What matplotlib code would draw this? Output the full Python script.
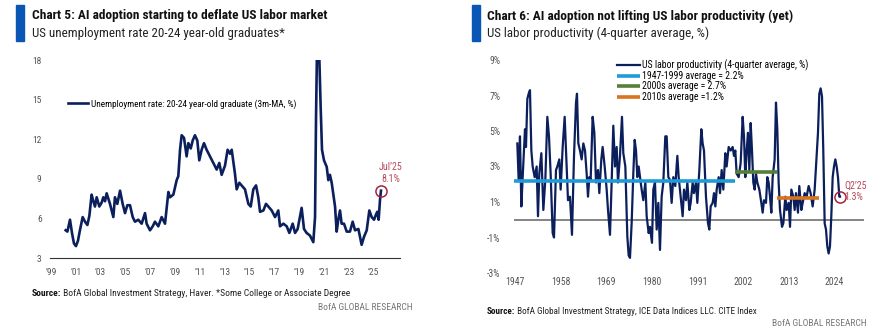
import matplotlib
matplotlib.use("Agg")
import matplotlib.pyplot as plt

plt.rcParams['font.family'] = ['Roboto Condensed', 'Archivo Narrow', 'Asap Condensed', 'DejaVu Sans']

# ---- Chart 5 data: unemployment rate 20-24 yr old graduates (3m-MA, %)
unemp_years = [2000.18, 2000.32, 2000.53, 2000.69, 2000.85, 2001.01, 2001.17, 2001.33, 2001.55, 2001.74,
               2001.93, 2002.09, 2002.27, 2002.41, 2002.54, 2002.68, 2002.89, 2003.08, 2003.21, 2003.35,
               2003.48, 2003.75, 2004.02, 2004.15, 2004.34, 2004.56, 2004.77, 2004.96, 2005.15, 2005.36,
               2005.58, 2005.76, 2006.03, 2006.30, 2006.57, 2006.70, 2006.97, 2007.19, 2007.37, 2007.64,
               2007.91, 2008.18, 2008.45, 2008.58, 2008.85, 2009.12, 2009.25, 2009.39, 2009.52, 2009.71,
               2009.92, 2010.06, 2010.25, 2010.41, 2010.59, 2010.78, 2010.94, 2011.13, 2011.32, 2011.53,
               2011.80, 2012.07, 2012.34, 2012.55, 2012.74, 2013.01, 2013.22, 2013.41, 2013.55, 2013.81,
               2013.95, 2014.16, 2014.43, 2014.62, 2014.89, 2015.08, 2015.29, 2015.51, 2015.69, 2015.83,
               2016.10, 2016.31, 2016.50, 2016.77, 2017.04, 2017.30, 2017.44, 2017.71, 2017.98, 2018.19,
               2018.46, 2018.65, 2018.86, 2019.18, 2019.37, 2019.58, 2019.85, 2020.12, 2020.26, 2020.34,
               2020.42, 2020.58, 2020.71, 2020.82, 2020.98, 2021.20, 2021.33, 2021.46, 2021.60, 2021.87,
               2022.00, 2022.13, 2022.27, 2022.40, 2022.59, 2022.81, 2023.07, 2023.29, 2023.48, 2023.75,
               2024.01, 2024.20, 2024.42, 2024.63, 2024.82, 2025.01, 2025.17, 2025.27, 2025.38, 2025.49,
               2025.57]
unemp_vals = [5.1, 5.0, 5.9, 4.9, 4.1, 3.9, 4.3, 5.1, 6.1, 5.75,
              5.5, 6.2, 7.8, 7.3, 6.9, 7.6, 6.9, 7.2, 7.6, 7.3,
              7.9, 7.1, 6.1, 7.6, 7.1, 8.1, 7.1, 6.4, 7.0, 7.0,
              6.1, 5.75, 5.9, 5.6, 6.4, 5.6, 5.1, 5.4, 5.75, 5.4,
              6.1, 5.6, 8.0, 7.6, 7.8, 8.9, 9.2, 11.2, 12.3, 12.1,
              10.7, 11.7, 11.3, 11.9, 12.3, 11.9, 10.4, 11.2, 11.7, 11.2,
              10.7, 10.2, 9.7, 10.2, 9.3, 10.0, 11.2, 10.9, 11.2, 9.4,
              8.2, 8.7, 8.4, 8.2, 7.1, 6.9, 8.2, 8.5, 7.6, 6.5,
              6.6, 7.1, 6.9, 6.6, 6.1, 6.6, 5.4, 5.6, 5.4, 4.9,
              5.6, 4.9, 5.2, 6.8, 5.2, 4.9, 4.7, 4.2, 6.1, 13.7,
              19.0, 19.0, 14.5, 11.2, 10.4, 9.9, 8.9, 9.3, 8.7, 6.9,
              5.0, 5.9, 6.6, 5.6, 5.6, 5.0, 5.0, 5.75, 5.1, 5.2,
              4.0, 4.6, 5.1, 6.6, 6.1, 5.9, 6.3, 6.5, 5.9, 7.4,
              8.1]
unemp_ticks = list(range(1999, 2026, 2))
unemp_ticklabels = ["\u2019" + str(y)[2:] for y in unemp_ticks]
unemp_yticks = [3, 6, 9, 12, 15, 18]

# ---- Chart 6 data: US labor productivity (4-quarter average, %)
prod_years = [1947.56, 1947.88, 1948.20, 1948.53, 1948.85, 1949.17, 1949.41, 1949.65, 1949.97, 1950.29,
              1950.61, 1950.94, 1951.26, 1951.74, 1952.22, 1952.54, 1952.86, 1953.35, 1953.83, 1954.31,
              1954.79, 1955.19, 1955.59, 1956.08, 1956.40, 1956.88, 1957.20, 1957.68, 1958.00, 1958.49,
              1958.97, 1959.29, 1959.77, 1960.25, 1960.73, 1961.22, 1961.70, 1961.94, 1962.26, 1962.66,
              1963.06, 1963.47, 1963.87, 1964.27, 1964.59, 1964.91, 1965.23, 1965.71, 1966.12, 1966.52,
              1967.00, 1967.32, 1967.80, 1968.12, 1968.61, 1969.09, 1969.41, 1969.89, 1970.29, 1970.69,
              1971.10, 1971.50, 1971.82, 1972.30, 1972.78, 1973.10, 1973.59, 1974.07, 1974.39, 1974.71,
              1975.11, 1975.51, 1975.84, 1976.16, 1976.48, 1976.80, 1977.12, 1977.52, 1977.92, 1978.41,
              1978.73, 1979.21, 1979.53, 1980.01, 1980.33, 1980.73, 1981.14, 1981.54, 1981.94, 1982.34,
              1982.74, 1983.22, 1983.55, 1983.95, 1984.35, 1984.75, 1985.15, 1985.63, 1986.12, 1986.44,
              1986.92, 1987.40, 1987.72, 1988.20, 1988.53, 1989.01, 1989.33, 1989.81, 1990.13, 1990.61,
              1990.94, 1991.42, 1991.90, 1992.22, 1992.54, 1993.02, 1993.51, 1993.83, 1994.15, 1994.63,
              1994.95, 1995.28, 1995.60, 1996.08, 1996.40, 1996.80, 1997.20, 1997.68, 1998.00, 1998.49,
              1998.97, 1999.45, 1999.77, 2000.09, 2000.41, 2000.90, 2001.38, 2001.86, 2002.18, 2002.50,
              2002.82, 2003.14, 2003.47, 2003.79, 2004.11, 2004.43, 2004.75, 2005.07, 2005.39, 2005.88,
              2006.36, 2006.68, 2007.00, 2007.48, 2007.80, 2008.12, 2008.45, 2008.77, 2009.09, 2009.57,
              2009.89, 2010.21, 2010.53, 2010.86, 2011.34, 2011.66, 2012.14, 2012.46, 2012.94, 2013.27,
              2013.59, 2014.07, 2014.39, 2014.71, 2015.19, 2015.51, 2016.00, 2016.32, 2016.80, 2017.28,
              2017.76, 2018.24, 2018.73, 2019.21, 2019.69, 2020.01, 2020.33, 2020.65, 2020.98, 2021.29,
              2021.62, 2021.94, 2022.26, 2022.58, 2022.90, 2023.22, 2023.55, 2023.87, 2024.19, 2024.51,
              2024.83, 2025.15, 2025.32]
prod_vals = [4.3, 2.25, 4.7, 0.75, 2.4, 3.9, 5.1, 4.1, 6.8, 7.1,
             7.3, 3.9, 3.0, 2.4, 3.0, 0.2, 2.6, 3.75, 0.55, 2.25,
             5.8, 4.7, 2.6, -0.75, -1.0, 2.8, 3.0, 3.4, 1.7, 4.1,
             5.8, 3.9, 1.1, 1.3, -0.85, 3.6, 6.6, 7.1, 4.3, 3.9,
             3.4, 4.3, 3.9, 2.6, 1.3, 2.4, 2.25, 5.8, 4.9, 2.1,
             2.8, 1.5, 3.4, 4.1, 3.0, 1.7, 0.55, -0.85, 2.1, 5.3,
             3.0, 4.1, 2.1, 3.6, 5.8, 3.75, 3.0, -0.95, -2.0, -2.15,
             -0.2, 2.6, 4.5, 3.9, 2.4, 3.0, 2.4, 1.7, 1.1, 2.1,
             0.2, -0.75, -0.4, -1.3, 1.7, 2.1, -0.55, 0.95, -1.7, 1.3,
             2.1, 4.7, 4.7, 2.4, 2.25, 0.95, 2.4, 1.9, 3.6, 2.4,
             1.3, 0.2, 1.7, 1.1, 2.1, 0.55, 0.95, 2.1, 1.5, 2.1,
             0.95, 2.8, 5.1, 4.3, 3.9, 1.3, -0.2, -0.55, 0.75, 0.95,
             1.5, 0.75, 1.7, 2.4, 1.5, 2.8, 1.7, 3.75, 3.0, 4.1,
             3.9, 4.1, 3.6, 3.9, 2.6, 2.4, 3.2, 5.8, 4.7, 2.4,
             3.9, 4.9, 2.8, 5.45, 3.9, 2.1, 1.7, 2.6, 2.1, 1.7,
             0.95, 0.4, 1.1, 0.95, 2.4, 2.1, 1.3, 0.4, 2.4, 3.4,
             6.6, 5.1, 2.1, 0.55, -0.4, -0.2, 1.3, 0.55, 0.95, -0.4,
             1.7, 1.3, 0.55, 1.5, 0.4, 1.9, 0.55, 0.95, 1.5, 1.3,
             1.9, 1.5, 0.75, 1.7, 3.6, 4.9, 7.1, 7.4, 6.95, 3.9,
             -0.2, -0.55, -1.5, -1.9, -1.5, 0.2, 2.4, 3.0, 3.4, 3.0,
             2.4, 1.3, 1.3]
prod_ticks = [1947, 1958, 1969, 1980, 1991, 2002, 2013, 2024]
prod_yticks = [-3, -1, 1, 3, 5, 7, 9]

avg_labels = ["1947-1999 average = 2.2%", "2000s average = 2.7%", "2010s average =1.2%"]
avg_start = [1946.76, 2000.0, 2010.05]
avg_end = [2000.0, 2010.05, 2020.33]
avg_vals = [2.2, 2.7, 1.2]
avg_colors = ["#1f9bd7", "#55803a", "#d8731f"]

NAVY = "#0b1f5c"
BAR = "#0a56b4"
RED = "#a8223c"
RED_TXT = "#b84a5c"
GREY_TXT = "#555555"

W, H = 887, 332
fig = plt.figure(figsize=(W / 100, H / 100), dpi=100)


def px(x, y):
    return x / W, 1 - y / H


def source_line(x, y, rest, size):
    # bold "Source:" followed by regular text
    t = fig.text(*px(x, y), "Source:", fontsize=size, fontweight="bold", color="#111111", va="center")
    fig.texts.append(matplotlib.text.Annotation(
        " " + rest, xy=(1, 0.5), xycoords=t, va="center", ha="left", fontsize=size, color="#222222"))
    fig.texts[-1].set_figure(fig)


# ---- headers
for x_bar, x_txt, title, sub in [
    (16, 32, "Chart 5: AI adoption starting to deflate US labor market",
     "US unemployment rate 20-24 year-old graduates*"),
    (472, 487, "Chart 6: AI adoption not lifting US labor productivity (yet)",
     "US labor productivity (4-quarter average, %)"),
]:
    fig.patches.append(plt.Rectangle(px(x_bar, 41), 8 / W, 36 / H, transform=fig.transFigure,
                                     color=BAR, zorder=5))
    fig.text(*px(x_txt, 16), title, fontsize=9.6, fontweight="bold", color="#111111", va="center")
    fig.text(*px(x_txt, 33), sub, fontsize=9.4, color="#222222", va="center")

# ---- Chart 5
ax1 = fig.add_axes([50 / W, 1 - 258 / H, 350 / W, 198 / H])
ax1.plot(unemp_years, unemp_vals, color=NAVY, lw=1.9, solid_joinstyle="round",
         label="Unemployment rate: 20-24 year-old graduate (3m-MA, %)")
ax1.set_xlim(1998.92, 2027.1)
ax1.set_ylim(3, 18)
ax1.set_yticks(unemp_yticks)
ax1.set_xticks(unemp_ticks)
ax1.set_xticklabels(unemp_ticklabels)
for s in ["top", "right", "left"]:
    ax1.spines[s].set_visible(False)
ax1.spines["bottom"].set_color("#333333")
ax1.spines["bottom"].set_linewidth(0.8)
ax1.tick_params(length=0, labelsize=6.8, colors=GREY_TXT, pad=6)
ax1.tick_params(axis="x", pad=7)
ax1.plot([unemp_years[-1]], [unemp_vals[-1]], "o", ms=8, mfc="none", mec=RED, mew=1.1)
ax1.annotate("Jul\u201925\n8.1%", (unemp_years[-1], unemp_vals[-1]), xytext=(7, 5),
             textcoords="offset points", ha="center", va="bottom", fontsize=7.2,
             color=RED_TXT, linespacing=1.2)
ax1.legend(loc="upper left", bbox_to_anchor=px(68, 99), bbox_transform=fig.transFigure,
           frameon=False, fontsize=6.7, handlelength=2.2, handletextpad=0.3, borderpad=0,
           borderaxespad=0)

source_line(32, 293, "BofA Global Investment Strategy, Haver. *Some College or Associate Degree", 6.8)
fig.text(*px(413, 307), "BofA GLOBAL RESEARCH", fontsize=6.8, color="#777777", va="center", ha="right")

# ---- Chart 6
ax2 = fig.add_axes([514 / W, 1 - 273 / H, 350 / W, 213 / H])
ax2.plot(prod_years, prod_vals, color=NAVY, lw=1.6, solid_joinstyle="round",
         label="US labor productivity (4-quarter average, %)", zorder=3)
for lab, x0, x1, v, c in zip(avg_labels, avg_start, avg_end, avg_vals, avg_colors):
    ax2.plot([x0, x1], [v, v], color=c, lw=2.6, label=lab, zorder=4, solid_capstyle="butt")
ax2.axhline(0, color="#6f6f6f", lw=1.2, zorder=2)
ax2.set_xlim(1946.76, 2031.1)
ax2.set_ylim(-3, 9)
ax2.set_yticks(prod_yticks)
ax2.set_yticklabels([f"{t}%" for t in prod_yticks])
ax2.set_xticks(prod_ticks)
for s in ax2.spines.values():
    s.set_visible(False)
ax2.tick_params(length=0, labelsize=7, colors=GREY_TXT, pad=10)
ax2.tick_params(axis="x", pad=3)
ax2.plot([prod_years[-1]], [prod_vals[-1]], "o", ms=8, mfc="none", mec=RED, mew=1.1, zorder=5)
ax2.annotate("Q2\u201925\n1.3%", (prod_years[-1], prod_vals[-1]), xytext=(3, -4),
             textcoords="offset points", ha="left", va="bottom", fontsize=7.2,
             color=RED_TXT, linespacing=1.2)
ax2.legend(loc="upper left", bbox_to_anchor=px(617, 59), bbox_transform=fig.transFigure,
           frameon=False, fontsize=7, handlelength=2.4, handletextpad=0.2, borderpad=0,
           labelspacing=0.05, borderaxespad=0)

source_line(487, 311, "BofA Global Investment Strategy, ICE Data Indices LLC. CITE Index", 6.6)
fig.text(*px(867, 323), "BofA GLOBAL RESEARCH", fontsize=6.8, color="#777777", va="center", ha="right")

fig.savefig("out.png", dpi=100, facecolor="white")
